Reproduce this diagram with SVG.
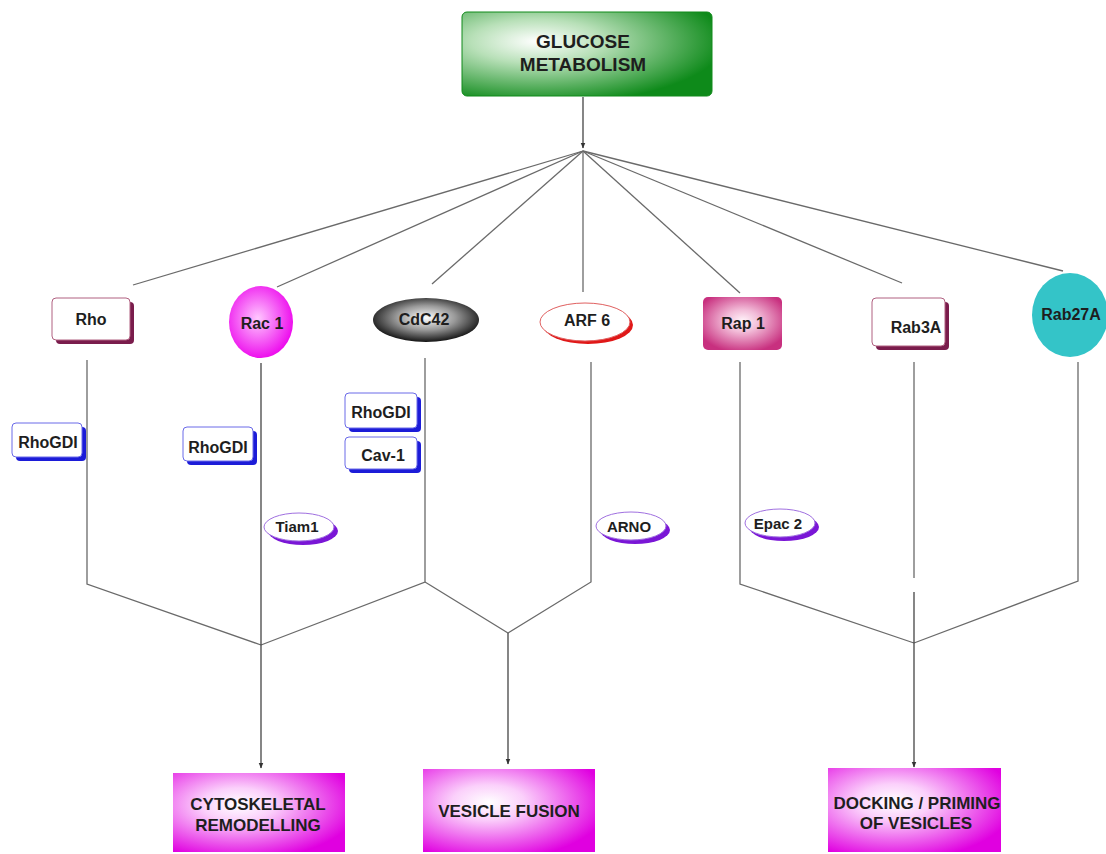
<svg xmlns="http://www.w3.org/2000/svg" width="1106" height="854" viewBox="0 0 1106 854">
<style>
  text { font-family: "Liberation Sans", Arial, sans-serif; font-weight: bold; fill: #1e1e1e; text-anchor: middle; dominant-baseline: central; }
  .lbl { font-size: 16px; }
  .sm { font-size: 15px; }
  .big { font-size: 17px; }
  .conn { stroke: #6a6a6a; stroke-width: 1.3; fill: none; }
  .arr { stroke: #444; stroke-width: 1.3; fill: none; marker-end: url(#ah); }
  .rshadow { fill: #7a1c4c; }
  .rbox { fill: #ffffff; stroke: #b06080; stroke-width: 1; }
  .bshadow { fill: #1c1cd8; }
  .bbox { fill: #ffffff; stroke: #6a6ae8; stroke-width: 1; }
  .pshadow { fill: #7a16d6; }
  .pbox { fill: #ffffff; stroke: #a070e0; stroke-width: 1; }
</style>
<defs>
  <marker id="ah" viewBox="0 0 10 10" refX="9" refY="5" markerWidth="6" markerHeight="6" orient="auto" markerUnits="userSpaceOnUse">
    <path d="M0,1 L10,5 L0,9 z" fill="#333"/>
  </marker>
  <radialGradient id="gGreen" cx="0.3" cy="0.35" r="0.75">
    <stop offset="0" stop-color="#ffffff"/>
    <stop offset="0.35" stop-color="#b8e0b8"/>
    <stop offset="1" stop-color="#0e8a1a"/>
  </radialGradient>
  <radialGradient id="gMag" cx="0.38" cy="0.4" r="0.7">
    <stop offset="0" stop-color="#ffffff"/>
    <stop offset="0.3" stop-color="#fbd0fb"/>
    <stop offset="1" stop-color="#e000e0"/>
  </radialGradient>
  <radialGradient id="gRac" cx="0.45" cy="0.45" r="0.6">
    <stop offset="0" stop-color="#ffc8ff"/>
    <stop offset="1" stop-color="#ec00ec"/>
  </radialGradient>
  <radialGradient id="gCdc" cx="0.5" cy="0.45" r="0.55">
    <stop offset="0" stop-color="#ffffff"/>
    <stop offset="0.5" stop-color="#9a9a9a"/>
    <stop offset="1" stop-color="#141414"/>
  </radialGradient>
  <radialGradient id="gRap" cx="0.5" cy="0.45" r="0.6">
    <stop offset="0" stop-color="#fff4fa"/>
    <stop offset="0.35" stop-color="#f2bcd8"/>
    <stop offset="1" stop-color="#c8307f"/>
  </radialGradient>
</defs>

<g id="connectors">
  <line class="arr" x1="583" y1="97" x2="583" y2="148"/>
  <line class="conn" x1="583" y1="151" x2="133" y2="285"/>
  <line class="conn" x1="583" y1="151" x2="277" y2="287"/>
  <line class="conn" x1="583" y1="151" x2="432" y2="284"/>
  <line class="conn" x1="583" y1="151" x2="583" y2="292"/>
  <line class="conn" x1="583" y1="151" x2="740" y2="293"/>
  <line class="conn" x1="583" y1="151" x2="902" y2="283"/>
  <line class="conn" x1="583" y1="151" x2="1063" y2="271"/>
  <polyline class="conn" points="87,360 87,584 261,645"/>
  <polyline class="conn" points="425,358 425,582 261,645"/>
  <polyline class="conn" points="425,582 508,633"/>
  <polyline class="conn" points="591,362 591,582 508,633"/>
  <line class="arr" x1="261" y1="363" x2="261" y2="768"/>
  <line class="arr" x1="508" y1="633" x2="508" y2="764"/>
  <polyline class="conn" points="740,362 740,584 914,643"/>
  <polyline class="conn" points="1078,362 1078,581 914,643"/>
  <line class="conn" x1="914" y1="362" x2="914" y2="578"/>
  <line class="arr" x1="914" y1="592" x2="914" y2="767"/>
</g>

<g id="glucose">
  <rect x="462" y="12" width="250" height="84" rx="5" fill="url(#gGreen)" stroke="#108a1a" stroke-width="1"/>
  <text x="583" y="41" style="font-size:19px">GLUCOSE</text>
  <text x="583" y="64" style="font-size:19px">METABOLISM</text>
</g>

<g id="rho">
  <rect class="rshadow" x="56" y="302" width="78" height="42" rx="4"/>
  <rect class="rbox" x="52" y="298" width="78" height="42" rx="4"/>
  <text class="lbl" x="91" y="319">Rho</text>
</g>

<g id="rac1">
  <ellipse cx="261" cy="322" rx="32" ry="36" fill="url(#gRac)"/>
  <text class="lbl" x="262" y="323">Rac 1</text>
</g>

<g id="cdc42">
  <ellipse cx="426" cy="320" rx="53" ry="22" fill="url(#gCdc)"/>
  <text class="lbl" x="424" y="319">CdC42</text>
</g>

<g id="arf6">
  <ellipse cx="588" cy="325" rx="45" ry="19" fill="#e01818"/>
  <ellipse cx="585" cy="322" rx="45" ry="19" fill="#ffffff" stroke="#e06060" stroke-width="1"/>
  <text class="lbl" x="587" y="320">ARF 6</text>
</g>

<g id="rap1">
  <rect x="703" y="297" width="79" height="53" rx="5" fill="url(#gRap)"/>
  <text class="lbl" x="743" y="323">Rap 1</text>
</g>

<g id="rab3a">
  <rect class="rshadow" x="876" y="302" width="73" height="48" rx="4"/>
  <rect class="rbox" x="872" y="298" width="73" height="48" rx="4"/>
  <text class="lbl" x="916" y="327">Rab3A</text>
</g>

<g id="rab27a">
  <ellipse cx="1070" cy="315" rx="38" ry="42" fill="#34c4c8"/>
  <text class="lbl" x="1071" y="314">Rab27A</text>
</g>

<g id="rhogdi-rho">
  <rect class="bshadow" x="16" y="427" width="70" height="34" rx="4"/>
  <rect class="bbox" x="12" y="423" width="70" height="34" rx="4"/>
  <text class="lbl" x="48" y="442">RhoGDI</text>
</g>

<g id="rhogdi-rac1">
  <rect class="bshadow" x="187" y="431" width="70" height="34" rx="4"/>
  <rect class="bbox" x="183" y="427" width="70" height="34" rx="4"/>
  <text class="lbl" x="218" y="447">RhoGDI</text>
</g>

<g id="rhogdi-cdc42">
  <rect class="bshadow" x="349" y="397" width="72" height="35" rx="4"/>
  <rect class="bbox" x="345" y="393" width="72" height="35" rx="4"/>
  <text class="lbl" x="381" y="412">RhoGDI</text>
</g>

<g id="cav1">
  <rect class="bshadow" x="349" y="441" width="72" height="32" rx="4"/>
  <rect class="bbox" x="345" y="437" width="72" height="32" rx="4"/>
  <text class="lbl" x="383" y="455">Cav-1</text>
</g>

<g id="tiam1">
  <ellipse class="pshadow" cx="303" cy="531" rx="35" ry="14"/>
  <ellipse class="pbox" cx="299" cy="527" rx="35" ry="14"/>
  <text class="sm" x="297" y="526">Tiam1</text>
</g>

<g id="arno">
  <ellipse class="pshadow" cx="635" cy="530" rx="35" ry="14"/>
  <ellipse class="pbox" cx="631" cy="526" rx="35" ry="14"/>
  <text class="sm" x="629" y="526">ARNO</text>
</g>

<g id="epac2">
  <ellipse class="pshadow" cx="784" cy="527" rx="35" ry="14"/>
  <ellipse class="pbox" cx="780" cy="523" rx="35" ry="14"/>
  <text class="sm" x="778" y="523">Epac 2</text>
</g>

<g id="cytoskeletal">
  <rect x="173" y="773" width="172" height="79" fill="url(#gMag)"/>
  <text class="big" x="258" y="804">CYTOSKELETAL</text>
  <text class="big" x="258" y="825">REMODELLING</text>
</g>

<g id="vesicle-fusion">
  <rect x="423" y="769" width="172" height="83" fill="url(#gMag)"/>
  <text class="big" x="509" y="811">VESICLE FUSION</text>
</g>

<g id="docking">
  <rect x="828" y="768" width="173" height="84" fill="url(#gMag)"/>
  <text class="big" x="917" y="803">DOCKING / PRIMING</text>
  <text class="big" x="916" y="823">OF VESICLES</text>
</g>
</svg>
